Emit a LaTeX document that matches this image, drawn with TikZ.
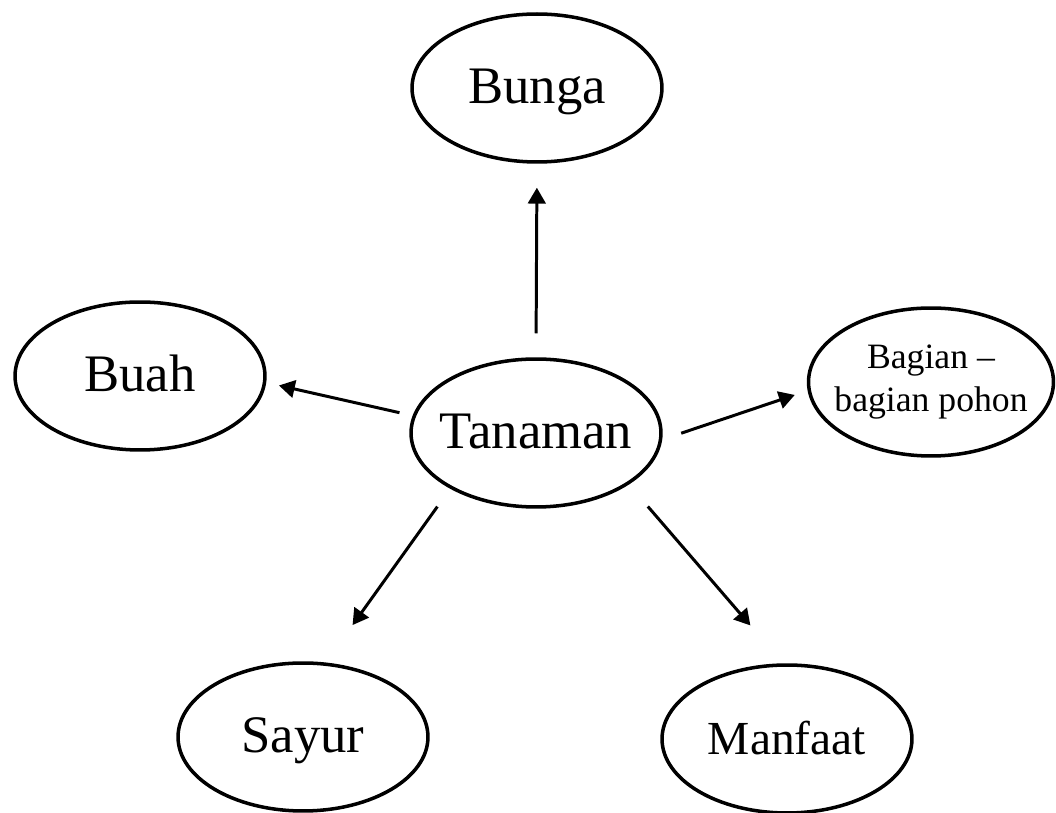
\documentclass[tikz,border=0pt]{standalone}
\usepackage{fontspec}
\setmainfont{Liberation Serif}
\usetikzlibrary{shapes.geometric,arrows.meta}
\begin{document}
\begin{tikzpicture}[x=0.02cm, y=-0.02cm,
konsep/.style={ellipse, draw, line width=2pt, minimum width=5cm, minimum height=2.96cm, inner xsep=-0.3cm, inner ysep=0pt},
kata/.style={konsep, font=\fontsize{30}{36}\selectfont, text height=24pt, text depth=6.6pt},
panah/.style={line width=1.7pt, -{Triangle[length=9pt,width=10pt]}}]
\useasboundingbox (0,0) rectangle (1056,813);
\node[kata] (tanaman) at (536,433){Tanaman};
\node[kata] (bunga) at (537,88){Bunga};
\node[kata] (buah) at (140,376){Buah};
\node[konsep, minimum width=4.9cm, align=center, font=\fontsize{20.3}{24.5}\selectfont] (bagian) at (931,382){Bagian --\\bagian pohon};
\node[kata] (sayur) at (303,737){Sayur};
\node[kata, font=\fontsize{27}{32}\selectfont] (manfaat) at (787,739){Manfaat};
\draw[panah, shorten <=0.48cm, shorten >=0.48cm](tanaman.north) -- (bunga.south);
\draw[panah, shorten <=0.27cm, shorten >=0.26cm](tanaman.172) -- (buah.-3);
\draw[panah, shorten <=0.4cm, shorten >=0.27cm](tanaman.-3) -- (bagian.184);
\draw[panah, shorten <=0.44cm, shorten >=0.92cm](tanaman.213.5) -- (sayur.73.4);
\draw[panah, shorten <=0.58cm, shorten >=1cm](tanaman.-29) -- (manfaat.93.4);
\end{tikzpicture}
\end{document}
